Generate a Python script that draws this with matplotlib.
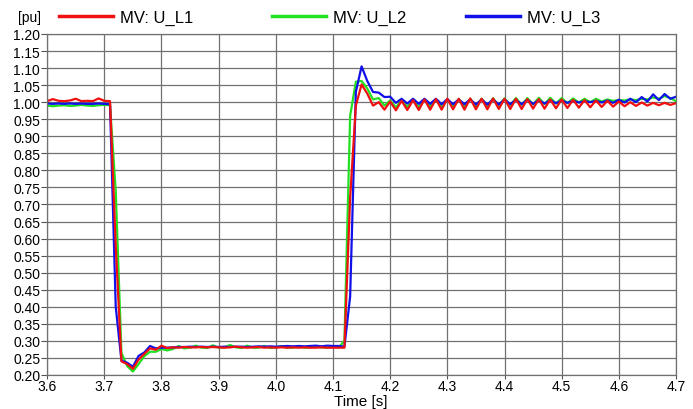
import matplotlib.pyplot as plt
import numpy as np

plt.rcParams['font.family'] = ['Liberation Sans', 'DejaVu Sans']

# sample times of the recorder, 10 ms step
time_s = np.round(np.arange(3.60, 4.705, 0.01), 2)

# phase voltages at the MV bus [pu]
u_l1 = [1.003, 1.009, 1.004, 1.003, 1.005, 1.010, 1.003, 1.004, 1.003, 1.011, 1.004, 1.003,
        0.58, 0.24, 0.232, 0.218, 0.245, 0.262, 0.278, 0.274, 0.286,
        0.279, 0.281, 0.280, 0.282, 0.281, 0.281, 0.282, 0.281, 0.282, 0.281, 0.280, 0.281,
        0.283, 0.281, 0.280, 0.281, 0.282, 0.280, 0.281, 0.280, 0.281, 0.280, 0.281, 0.280,
        0.281, 0.280, 0.280, 0.281, 0.280, 0.280, 0.280,
        0.280, 0.72, 0.99, 1.052, 1.025, 0.99, 1.0, 0.978,
        1.002, 0.976, 1.004, 0.977, 1.006, 0.977, 1.008, 0.978, 1.009, 0.978,
        1.010, 0.979, 1.010, 0.978, 1.011, 0.979, 1.010, 0.979, 1.011, 0.980,
        1.010, 0.980, 1.010, 0.980, 1.009, 0.981, 1.009, 0.981, 1.008, 0.982,
        1.008, 0.983, 1.007, 0.984, 1.006, 0.985, 1.005, 0.986, 1.004, 0.987,
        1.002, 0.988, 1.000, 0.989, 0.999, 0.990, 0.998, 0.991, 0.998, 0.992,
        0.997]

u_l2 = [0.990, 0.988, 0.990, 0.991, 0.989, 0.990, 0.992, 0.990, 0.989, 0.991, 0.992, 0.991,
        0.74, 0.265, 0.226, 0.210, 0.232, 0.255, 0.268, 0.268, 0.276,
        0.272, 0.276, 0.285, 0.278, 0.280, 0.286, 0.280, 0.279, 0.287, 0.280, 0.281, 0.288,
        0.281, 0.279, 0.286, 0.280, 0.280, 0.285, 0.279, 0.281, 0.285, 0.280, 0.280, 0.284,
        0.280, 0.281, 0.284, 0.281, 0.280, 0.283, 0.281,
        0.30, 0.96, 1.06, 1.062, 1.04, 1.008, 1.012, 0.99,
        1.005, 0.985, 1.006, 0.986, 1.007, 0.985, 1.008, 0.987, 1.008, 0.986,
        1.009, 0.987, 1.009, 0.988, 1.010, 0.988, 1.010, 0.989, 1.011, 0.990,
        1.011, 0.991, 1.012, 0.992, 1.012, 0.993, 1.013, 0.994, 1.013, 0.996,
        1.012, 0.997, 1.011, 0.999, 1.010, 1.000, 1.010, 1.002, 1.008, 1.004,
        1.006, 1.005, 1.008, 1.006, 1.010, 1.008, 1.014, 1.010, 1.018, 1.012,
        1.003]

u_l3 = [0.996, 0.995, 0.996, 0.995, 0.996, 0.995, 0.996, 0.995, 0.995, 0.996, 0.995, 0.994,
        0.40, 0.242, 0.236, 0.224, 0.256, 0.266, 0.285, 0.278, 0.280,
        0.280, 0.281, 0.282, 0.282, 0.283, 0.282, 0.283, 0.282, 0.283, 0.282, 0.283, 0.282,
        0.283, 0.283, 0.282, 0.283, 0.284, 0.283, 0.284, 0.283, 0.284, 0.285, 0.284, 0.285,
        0.284, 0.285, 0.286, 0.284, 0.286, 0.285, 0.285,
        0.283, 0.43, 1.03, 1.105, 1.062, 1.03, 1.028, 1.015,
        1.016, 0.998, 1.010, 0.996, 1.010, 0.995, 1.010, 0.995, 1.010, 0.994,
        1.009, 0.994, 1.008, 0.994, 1.008, 0.993, 1.008, 0.993, 1.008, 0.993,
        1.008, 0.994, 1.007, 0.994, 1.007, 0.995, 1.006, 0.996, 1.006, 0.997,
        1.005, 0.998, 1.004, 0.999, 1.003, 1.000, 1.004, 0.999, 1.005, 0.998,
        1.007, 0.999, 1.010, 1.000, 1.015, 1.002, 1.023, 1.006, 1.024, 1.010,
        1.016]

series = [('MV: U_L1', u_l1, '#f01010'),
          ('MV: U_L2', u_l2, '#22e022'),
          ('MV: U_L3', u_l3, '#1010e8')]

fig = plt.figure(figsize=(6.93, 4.10), dpi=100)
ax = fig.add_axes([0.068, 0.083, 0.9075, 0.8317])

for name, vals, col in [series[1], series[2], series[0]]:
    ax.plot(time_s, vals, color=col, lw=1.6)

ax.set_xlim(3.6, 4.7)
ax.set_ylim(0.2, 1.2)
ax.set_xticks(np.round(np.arange(3.6, 4.75, 0.1), 1))
ax.set_yticks(np.round(np.arange(0.2, 1.201, 0.05), 2))
ax.set_xticklabels([f'{v:.1f}' for v in ax.get_xticks()])
ax.set_yticklabels([f'{v:.2f}' for v in ax.get_yticks()])
ax.tick_params(labelsize=10, length=4, width=0.8, color='#555555', pad=1)
ax.tick_params(axis='x', length=3, pad=0)
ax.grid(True, color='#707070', lw=0.9)
for s in ax.spines.values():
    s.set_color('#707070')
    s.set_linewidth(0.9)

fig.text(0.521, 0.003, 'Time [s]', fontsize=11, ha='center', va='bottom')
fig.text(0.026, 0.955, '[pu]', fontsize=10, ha='left', va='center')

# legend entries laid out in a row above the plot
leg_x = [0.085, 0.392, 0.672]
for (name, vals, col), x0 in zip(series, leg_x):
    fig.lines.append(plt.Line2D([x0, x0 + 0.078], [0.958, 0.958], color=col, lw=2.5,
                                transform=fig.transFigure))
    fig.text(x0 + 0.088, 0.955, name, fontsize=12, ha='left', va='center')

fig.savefig('out.png', dpi=100)
